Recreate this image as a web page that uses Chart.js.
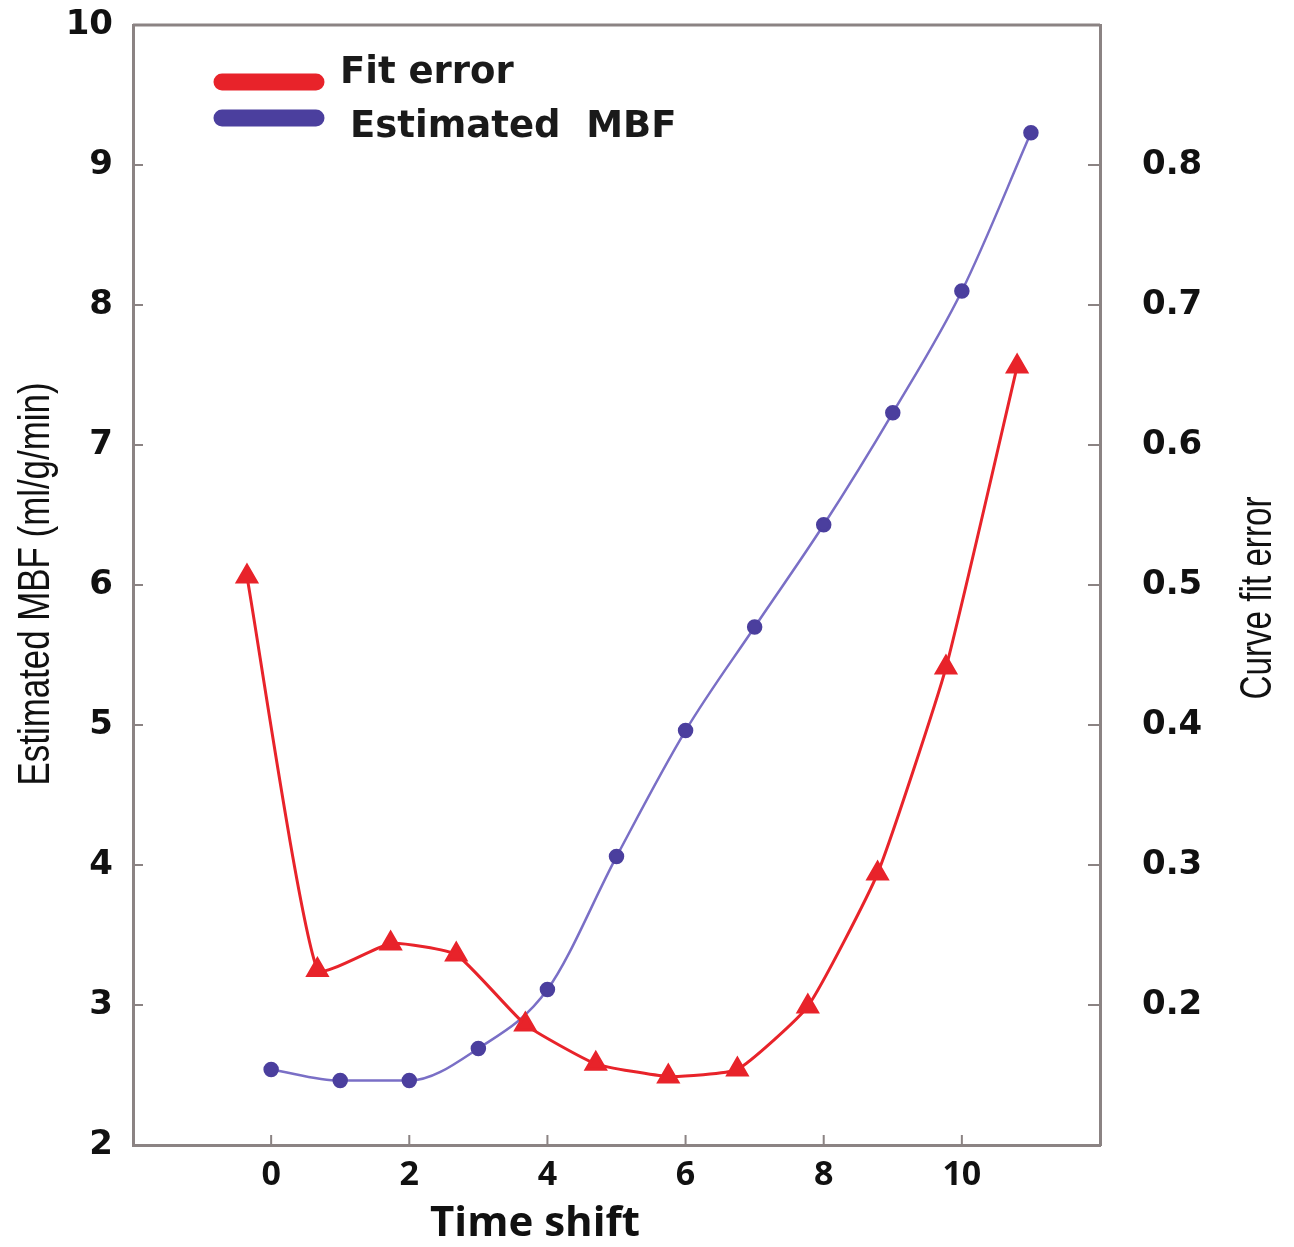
<!DOCTYPE html>
<html>
<head>
<meta charset="utf-8">
<script src="https://cdn.jsdelivr.net/npm/chart.js@4"></script>
<style>
  body { margin: 0; background: #fff; }
  #wrap { width: 1294px; height: 1247px; position: relative; }
</style>
</head>
<body>
<div id="wrap"><canvas id="chart"></canvas></div>
<script>
// values
let mbfTime = [0, 1, 2, 3, 4, 5, 6, 7, 8, 9, 10, 11];
let mbfValues = [2.54, 2.46, 2.46, 2.69, 3.11, 4.06, 4.96, 5.70, 6.43, 7.23, 8.10, 9.23];
let errTime = [-0.35, 0.67, 1.73, 2.68, 3.68, 4.70, 5.75, 6.75, 7.77, 8.78, 9.77, 10.80];
let errValues = [0.506, 0.225, 0.244, 0.236, 0.186, 0.158, 0.149, 0.154, 0.199, 0.294, 0.441, 0.656];
let xTicks = [0, 2, 4, 6, 8, 10];
let leftTicks = [2, 3, 4, 5, 6, 7, 8, 9, 10];
let rightTicks = [0.2, 0.3, 0.4, 0.5, 0.6, 0.7, 0.8];
let legendLabels = ["Fit error", "Estimated  MBF"];

let axisColor = "#8b8383";
let red = "#e8232a";
let blue = "#4b3f9e";

function toPoints(xs, ys)
{
    return xs.map((x, i) => ({ x: x, y: ys[i] }));
}

// draws a rotated, horizontally squeezed title so it fits a given length
function narrowTitle(ctx, text, cx, cy, length)
{
    ctx.save();
    ctx.font = "44px 'Liberation Sans', Arial";
    let w = ctx.measureText(text).width;
    ctx.translate(cx, cy);
    ctx.rotate(-Math.PI / 2);
    ctx.scale(length / w, 1);
    ctx.textAlign = "center";
    ctx.textBaseline = "middle";
    ctx.fillText(text, 0, 0);
    ctx.restore();
}

// little tick marks pointing into the plot, plus the top frame line, titles and legend
let decorations = {
    id: "decorations",
    afterDraw(chart)
    {
        let ctx = chart.ctx;
        let area = chart.chartArea;
        let sx = chart.scales.x, sy = chart.scales.y, sy2 = chart.scales.y2;
        ctx.save();
        ctx.strokeStyle = axisColor;
        ctx.lineWidth = 2;
        ctx.beginPath();
        for (let v of xTicks)
        {
            let px = sx.getPixelForValue(v);
            ctx.moveTo(px, area.bottom);
            ctx.lineTo(px, area.bottom - 10);
        }
        for (let v of leftTicks)
        {
            let py = sy.getPixelForValue(v);
            ctx.moveTo(area.left, py);
            ctx.lineTo(area.left + 10, py);
        }
        for (let v of rightTicks)
        {
            let py = sy2.getPixelForValue(v);
            ctx.moveTo(area.right, py);
            ctx.lineTo(area.right - 12, py);
        }
        ctx.stroke();

        // top frame line
        ctx.lineWidth = 3;
        ctx.beginPath();
        ctx.moveTo(area.left, area.top);
        ctx.lineTo(area.right, area.top);
        ctx.stroke();

        // legend
        let swatches = [[red, 82, 73, 340], [blue, 118, 127, 350]];
        ctx.lineCap = "round";
        ctx.lineWidth = 17;
        ctx.font = "bold 37px 'DejaVu Sans'";
        ctx.textBaseline = "middle";
        ctx.textAlign = "left";
        for (let i = 0; i < swatches.length; i++)
        {
            let s = swatches[i];
            ctx.strokeStyle = s[0];
            ctx.beginPath();
            ctx.moveTo(222, s[1]);
            ctx.lineTo(316, s[1]);
            ctx.stroke();
            ctx.fillStyle = "#1a1a1a";
            ctx.fillText(legendLabels[i], s[3], s[2]);
        }

        // axis titles
        ctx.fillStyle = "#111";
        ctx.textAlign = "center";
        ctx.font = "bold 42px 'Open Sans'";
        ctx.fillText("Time shift", 535, 1224);

        narrowTitle(ctx, "Estimated MBF (ml/g/min)", 37, 584, 403);
        narrowTitle(ctx, "Curve fit error", 1259, 598, 203);
        ctx.restore();
    }
};

let tickFont = { family: "'DejaVu Sans'", size: 34, weight: "bold" };

new Chart(document.getElementById("chart"),
{
    type: "line",
    data:
    {
        datasets: [
            {
                label: "Fit error",
                data: toPoints(errTime, errValues),
                yAxisID: "y2",
                borderColor: red,
                backgroundColor: red,
                borderWidth: 3,
                pointStyle: "triangle",
                pointRadius: 11,
                tension: 0.15
            },
            {
                label: "Estimated MBF",
                data: toPoints(mbfTime, mbfValues),
                yAxisID: "y",
                borderColor: "#7a6fc6",
                backgroundColor: blue,
                pointBorderColor: blue,
                borderWidth: 2.5,
                pointStyle: "circle",
                pointRadius: 6.5,
                cubicInterpolationMode: "monotone"
            }
        ]
    },
    options:
    {
        responsive: true,
        maintainAspectRatio: false,
        animation: false,
        layout: { padding: { top: 25, left: 0, right: 0, bottom: 0 } },
        plugins:
        {
            legend: { display: false },
            tooltip: { enabled: false }
        },
        scales:
        {
            x:
            {
                type: "linear",
                min: -2,
                max: 12,
                afterFit: (scale) => { scale.height = 102; scale.paddingLeft = 0; scale.paddingRight = 0; },
                border: { color: axisColor, width: 3 },
                grid: { display: false },
                ticks:
                {
                    stepSize: 2,
                    padding: 2,
                    color: "#111",
                    font: { family: "'Open Sans'", size: 34, weight: "bold" },
                    callback: (v) => xTicks.includes(v) ? String(v) : ""
                }
            },
            y:
            {
                position: "left",
                min: 2,
                max: 10,
                afterFit: (scale) => { scale.width = 133; scale.paddingTop = 0; scale.paddingBottom = 0; },
                border: { color: axisColor, width: 3 },
                grid: { display: false },
                ticks: { stepSize: 1, padding: 12, color: "#111", font: tickFont }
            },
            y2:
            {
                position: "right",
                min: 0.1,
                max: 0.9,
                afterFit: (scale) => { scale.width = 194; scale.paddingTop = 0; scale.paddingBottom = 0; },
                border: { color: axisColor, width: 3 },
                grid: { display: false },
                ticks:
                {
                    stepSize: 0.1,
                    padding: 34,
                    color: "#111",
                    font: tickFont,
                    callback: (v) => (v > 0.15 && v < 0.85) ? v.toFixed(1) : ""
                }
            }
        }
    },
    plugins: [decorations]
});
</script>
</body>
</html>
